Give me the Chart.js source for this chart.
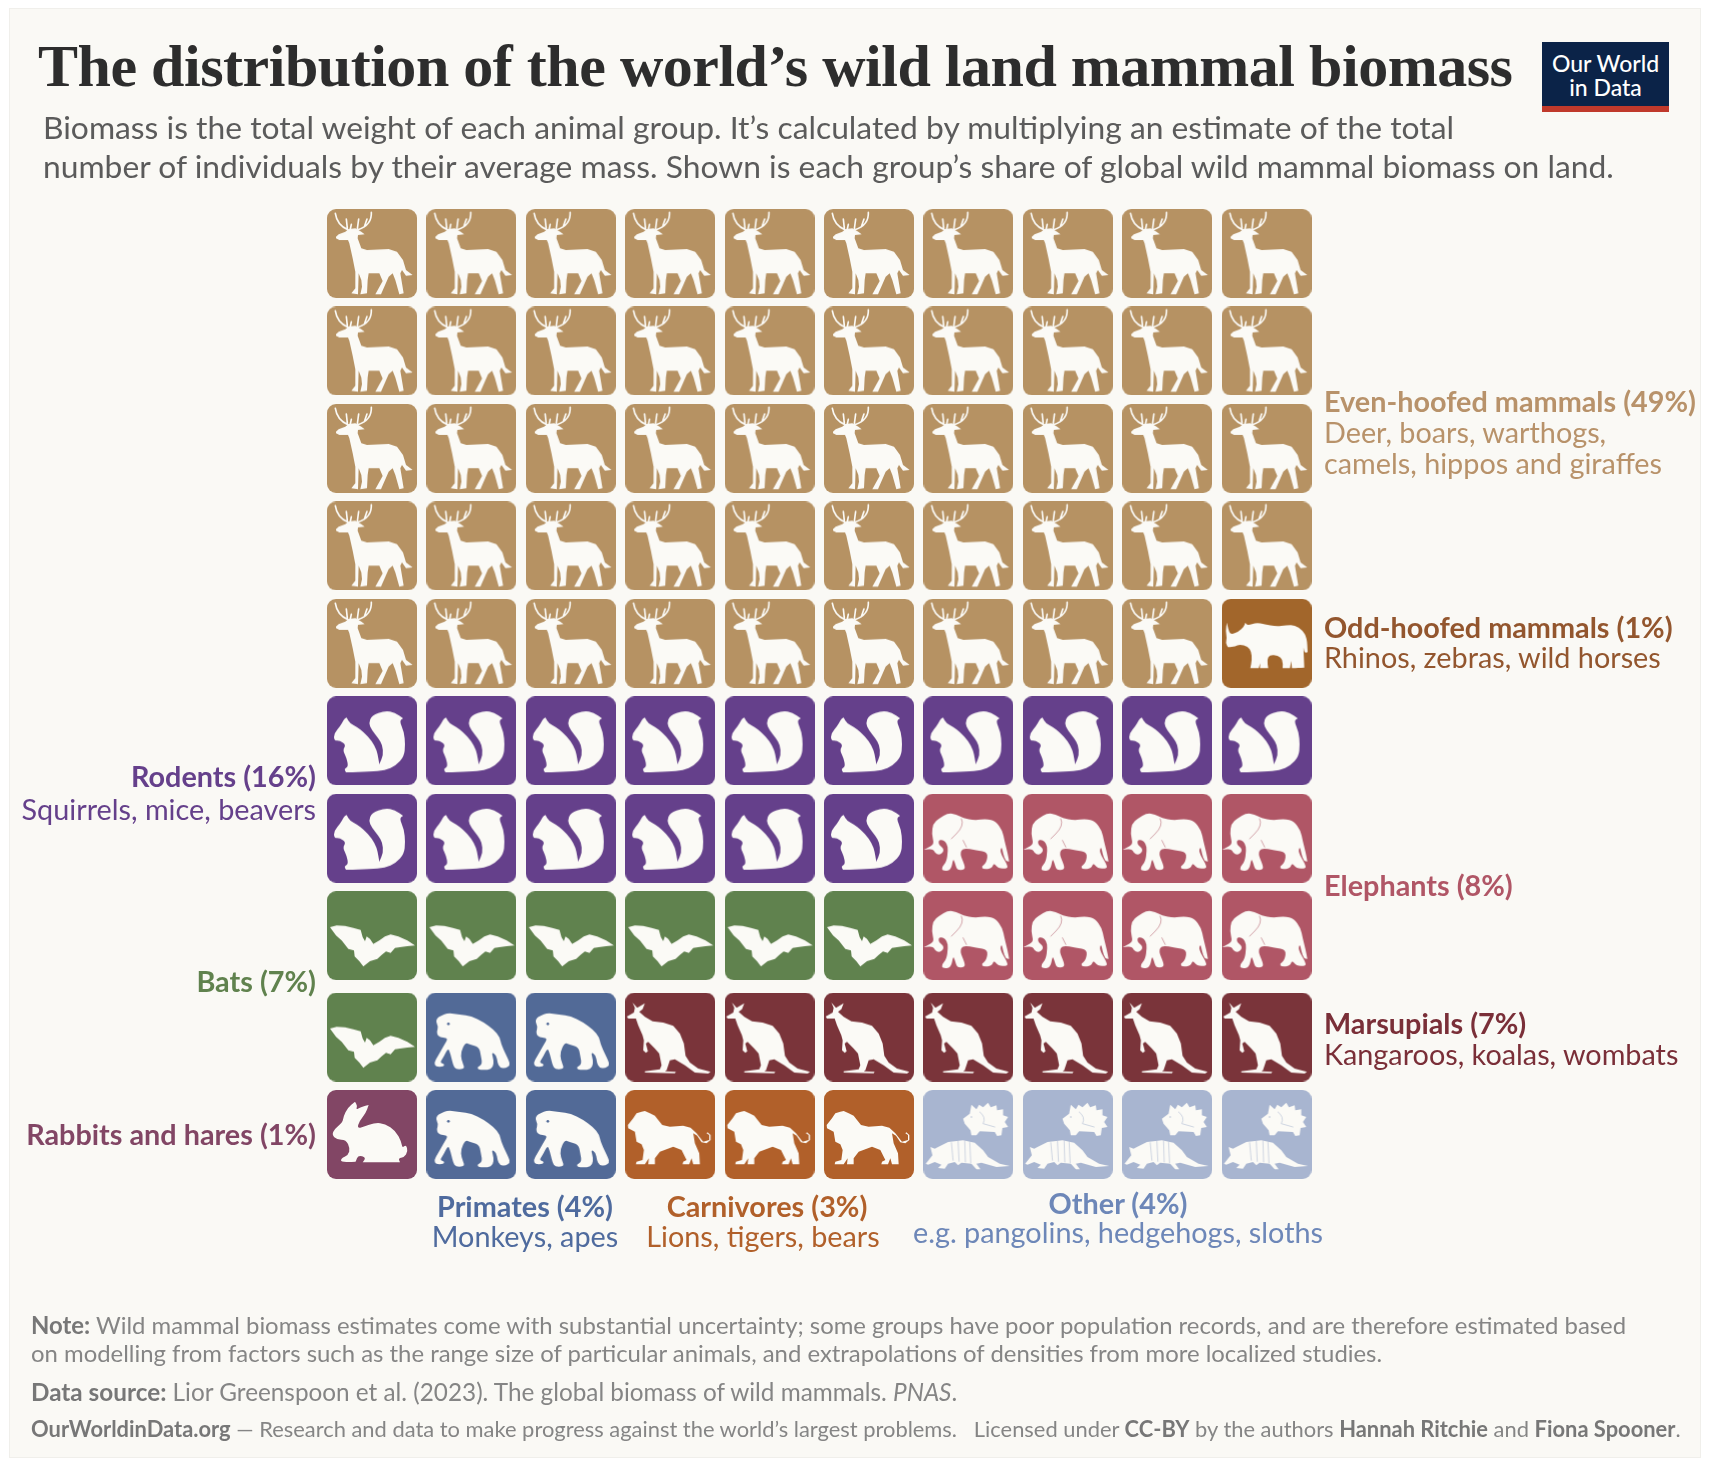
<!DOCTYPE html>
<html lang="en">

<head>
    <meta charset="UTF-8">
    <title>The distribution of the world's wild land mammal biomass</title>
    <script src="https://cdn.jsdelivr.net/npm/chart.js"></script>
    <style>
        html, body { margin: 0; padding: 0; background: #fff; }
        body { position: relative; width: 1710px; height: 1468px; overflow: hidden; font-family: Lato, sans-serif; }
        .panel { position: absolute; left: 9px; top: 8px; width: 1692px; height: 1450px; background: #faf9f5; border: 1px solid #f0efeb; box-sizing: border-box; }
        canvas { position: absolute; left: 0; top: 0; }
        .txt { position: absolute; white-space: nowrap; }
        h1 { position: absolute; left: 38px; top: 28px; margin: 0; font: bold 60px/76px "Liberation Serif", serif; letter-spacing: -0.48px; color: #2d2d2d; white-space: nowrap; }
        .sub { left: 43px; top: 108px; font-size: 31.8px; line-height: 38.5px; color: #5b5b5b; }
        .lab { font-size: 28.8px; line-height: 31px; }
        .lab b { font-weight: 700; }
        #lab8 b { position: relative; left: 4px; }
        .logo { position: absolute; left: 1542px; top: 42px; width: 127px; height: 70px; background: #0b2348; border-bottom: 6px solid #c0392b; box-sizing: border-box; color: #fff; font-size: 23px; line-height: 24px; font-weight: 500; text-align: center; padding-top: 9px; }
        .foot { left: 31px; line-height: 28px; color: #858585; }
        .foot b { color: #777; }
    </style>
</head>

<body>
    <div class="panel"></div>
    <canvas id="chartWaffle" width="1710" height="1468"></canvas>

    <h1>The distribution of the world’s wild land mammal biomass</h1>
    <div class="txt sub">Biomass is the total weight of each animal group. It’s calculated by multiplying an estimate of the total<br>number of individuals by their average mass. Shown is each group’s share of global wild mammal biomass on land.</div>
    <div class="logo">Our World<br>in Data</div>

    <!-- group labels, text comes from the arrays below -->
    <div class="txt lab" id="lab0" style="left:1324px; top:386px"></div>
    <div class="txt lab" id="lab1" style="left:1324px; top:612px; line-height:30px"></div>
    <div class="txt lab" id="lab2" style="right:1394px; top:760px; line-height:33px; text-align:right"></div>
    <div class="txt lab" id="lab3" style="left:1324px; top:870px"></div>
    <div class="txt lab" id="lab4" style="right:1394px; top:966px; text-align:right"></div>
    <div class="txt lab" id="lab5" style="left:1324px; top:1008px"></div>
    <div class="txt lab" id="lab6" style="right:1394px; top:1119px; text-align:right"></div>
    <div class="txt lab" id="lab7" style="left:425px; width:200px; top:1191px; line-height:30px; text-align:center"></div>
    <div class="txt lab" id="lab8" style="left:613px; width:300px; top:1191px; line-height:30px; text-align:center"></div>
    <div class="txt lab" id="lab9" style="left:868px; width:500px; top:1189px; line-height:29px; text-align:center"></div>

    <div class="txt foot" style="top:1311px; font-size:23.9px">
        <b>Note:</b> Wild mammal biomass estimates come with substantial uncertainty; some groups have poor population records, and are therefore estimated based<br>on modelling from factors such as the range size of particular animals, and extrapolations of densities from more localized studies.
    </div>
    <div class="txt foot" style="top:1378px; font-size:24.3px"><b>Data source:</b> Lior Greenspoon et al. (2023). The global biomass of wild mammals. <i>PNAS</i>.</div>
    <div class="txt foot" style="top:1415px; font-size:21.9px"><b>OurWorldinData.org</b> — Research and data to make progress against the world’s largest problems. &nbsp; Licensed under <b>CC-BY</b> by the authors <b>Hannah Ritchie</b> and <b>Fiona Spooner</b>.</div>

    <script>
        // dados
        var groupNames = ["Even-hoofed mammals", "Odd-hoofed mammals", "Rodents", "Elephants", "Bats", "Marsupials", "Rabbits and hares", "Primates", "Carnivores", "Other"];
        var groupShares = [49, 1, 16, 8, 7, 7, 1, 4, 3, 4];
        var groupNotes = [
            "Deer, boars, warthogs,<br>camels, hippos and giraffes",
            "Rhinos, zebras, wild horses",
            "Squirrels, mice, beavers",
            "",
            "",
            "Kangaroos, koalas, wombats",
            "",
            "Monkeys, apes",
            "Lions, tigers, bears",
            "e.g. pangolins, hedgehogs, sloths"
        ];
        // which group each tile belongs to, top row first
        var tileRows = [
            [0, 0, 0, 0, 0, 0, 0, 0, 0, 0],
            [0, 0, 0, 0, 0, 0, 0, 0, 0, 0],
            [0, 0, 0, 0, 0, 0, 0, 0, 0, 0],
            [0, 0, 0, 0, 0, 0, 0, 0, 0, 0],
            [0, 0, 0, 0, 0, 0, 0, 0, 0, 1],
            [2, 2, 2, 2, 2, 2, 2, 2, 2, 2],
            [2, 2, 2, 2, 2, 2, 3, 3, 3, 3],
            [4, 4, 4, 4, 4, 4, 3, 3, 3, 3],
            [4, 7, 7, 5, 5, 5, 5, 5, 5, 5],
            [6, 7, 7, 8, 8, 8, 9, 9, 9, 9]
        ];

        var tileColors = ["#b69263", "#a2662b", "#65408b", "#b05666", "#60824e", "#7a343a", "#824665", "#526a97", "#b1602a", "#a8b5d0"];
        var labelColors = ["#b8926a", "#93562e", "#65408b", "#b05666", "#60824e", "#7a2f38", "#824665", "#4f6b9e", "#b1602a", "#6d87b8"];
        var iconColor = "#fbfaf6";

        // silhouettes traced from 3x crops; ox/oy is the tile corner in that crop
        // round: corners are smoothed, a point written twice stays sharp
        var icons = [
            { // deer
                ox: 15, oy: 12,
                fill: "42 95 50 88 70 80 80 72 100 70 118 80 128 88 108 90 107 100 118 130 135 135 200 132 225 140 243 165 252 195 272 210 252 212 240 195 235 205 245 265 232 268 220 225 212 205 200 215 177 268 160 268 182 228 172 205 140 205 137 225 135 265 115 268 120 245 118 225 110 205 108 268 88 265 100 250 100 200 92 160 82 115 78 105 52 105 42 100",
                antler: "M40 25 Q45 60 78 74 M148 22 Q150 60 108 74 M73 42 L76 70 M88 58 L85 72 M110 42 L106 72 M135 42 L128 62"
            },
            { // rhino
                ox: 21, oy: 12, round: true,
                fill: "37 83 37 83 41 103 48 120 72 110 88 95 92 83 92 83 99 92 125 83 150 88 185 95 215 91 240 90 264 106 277 130 279 172 279 172 269 174 266 150 269 218 269 218 232 220 232 220 230 198 230 198 226 220 226 220 204 220 204 220 205 195 190 182 165 180 157 195 161 220 161 220 136 220 136 220 137 205 137 205 132 220 132 220 107 220 107 220 112 195 110 170 100 155 75 148 62 155 40 157 40 157 33 145 37 130 33 108"
            },
            { // squirrel
                ox: 21, oy: 304, round: true,
                fill: "80 368 80 368 90 385 110 395 132 412 155 437 170 465 175 490 178 508 178 508 190 480 187 450 175 430 155 405 146 385 155 362 195 347 225 353 250 370 250 370 238 378 252 410 256 450 252 485 228 512 195 526 150 530 78 532 78 532 72 522 85 515 80 490 68 465 78 450 60 437 42 437 42 415 62 392 68 380 74 370"
            },
            { // elephant
                ox: 11, oy: 10, round: true,
                fill: "36 130 40 100 58 84 85 68 110 72 130 83 165 90 200 85 228 93 248 120 254 150 264 190 268 213 268 213 258 212 250 190 246 168 240 185 264 225 262 235 235 234 222 217 217 234 190 237 185 228 200 218 205 185 170 180 130 172 120 190 135 225 135 238 112 240 105 215 100 205 94 240 68 242 66 230 80 215 85 180 82 160 70 148 56 150 58 165 70 172 72 184 58 194 45 187 40 175 13 178 13 178 38 165 42 155",
                lines: "M125 85 Q135 105 110 130 L95 145 M130 150 L140 170"
            },
            { // bat
                ox: 21, oy: 22,
                fill: "30 130 50 125 75 126 100 132 122 138 128 160 135 172 140 158 150 165 160 180 178 170 195 158 212 152 235 158 262 170 285 185 262 187 240 190 225 192 212 207 198 203 185 213 172 225 150 232 130 248 118 232 104 218 102 200 85 195 65 170 48 155"
            },
            { // kangaroo
                ox: 916, oy: 22,
                fill: "938 52 952 68 975 54 968 72 958 80 975 95 998 108 1030 112 1060 122 1080 145 1092 175 1097 212 1110 232 1135 250 1172 260 1165 265 1125 262 1095 240 1065 222 1050 225 1040 255 1035 258 1068 260 1065 264 975 262 975 258 1020 252 1025 240 1018 205 1005 190 985 170 978 175 984 198 978 203 970 195 972 165 968 150 955 120 948 100 925 100 921 94 942 82 945 68"
            },
            { // rabbit
                ox: 21, oy: 315, round: true,
                fill: "36 450 43 432 68 412 70 395 83 368 105 350 105 350 112 362 108 375 122 366 146 360 146 360 137 385 117 410 112 430 130 426 165 413 195 416 227 438 244 470 247 490 258 478 264 500 252 517 235 520 240 532 240 532 128 532 128 532 138 518 115 510 107 530 107 530 63 532 63 520 85 510 90 490 78 464 50 464"
            },
            { // chimp
                ox: 320, oy: 22, round: true,
                fill: "363 92 385 83 420 88 455 93 490 110 522 133 540 155 545 180 567 225 571 240 557 250 540 247 533 232 530 210 515 200 522 225 520 247 505 254 476 254 472 245 488 238 483 210 478 185 450 178 437 172 423 200 425 225 434 245 430 252 408 252 400 240 392 205 385 188 372 215 360 232 374 236 372 244 348 245 343 232 353 215 373 180 385 160 370 157 354 154 351 138 356 125 348 110 353 98",
                dots: [[386, 116, 4]]
            },
            { // lion
                ox: 916, oy: 315,
                fill: "924 420 940 400 950 385 965 380 975 378 990 385 1005 392 1015 405 1027 420 1050 425 1090 422 1112 428 1130 445 1150 470 1168 465 1168 450 1160 445 1163 442 1172 450 1172 465 1160 475 1145 472 1132 452 1120 445 1125 475 1138 505 1140 538 1120 538 1115 520 1108 538 1088 538 1090 530 1100 525 1085 495 1060 485 1020 500 1005 520 1005 538 985 538 987 520 975 538 948 538 950 530 968 525 972 495 965 478 950 470 945 440 925 430"
            },
            { // hedgehog and armadillo
                ox: 11, oy: 14,
                fill: "130 100 150 85 155 58 170 72 178 58 190 66 205 52 213 66 230 60 232 75 250 72 250 90 265 95 255 110 265 125 248 128 245 150 232 152 225 140 180 138 170 150 155 150 152 135 135 115",
                fill2: "18 235 38 210 32 185 45 190 55 185 85 170 130 165 165 172 190 195 205 215 240 235 270 242 230 245 185 232 170 235 182 252 170 252 155 235 125 232 115 240 105 230 85 235 75 250 55 248 65 238 45 230 25 238",
                lines: "M180 80 Q200 95 190 115 L225 125 M95 172 L100 225 M115 167 L118 228 M135 167 L137 230 M150 170 L153 232",
                dots: [[155, 95, 2]]
            }
        ];

        // outline from a list of numbers, straight or smoothed through the midpoints
        function outline(g, str, round) {
            var n = str.trim().split(/\s+/).map(Number);
            var pts = [];
            for (var k = 0; k < n.length; k += 2) pts.push([n[k], n[k + 1]]);
            g.beginPath();
            if (!round) {
                pts.forEach(function (p, k) { k ? g.lineTo(p[0], p[1]) : g.moveTo(p[0], p[1]); });
            } else {
                var last = pts[pts.length - 1];
                g.moveTo((last[0] + pts[0][0]) / 2, (last[1] + pts[0][1]) / 2);
                pts.forEach(function (p, k) {
                    var q = pts[(k + 1) % pts.length];
                    g.quadraticCurveTo(p[0], p[1], (p[0] + q[0]) / 2, (p[1] + q[1]) / 2);
                });
            }
            g.closePath();
            g.fill();
        }

        // rounded tile with the animal on it, used as the point image
        function makeTile(i) {
            var c = document.createElement("canvas");
            c.width = 90;
            c.height = 89;
            var g = c.getContext("2d");
            g.fillStyle = tileColors[i];
            g.beginPath();
            g.roundRect(0, 0, 90, 89, 9);
            g.fill();
            var icon = icons[i];
            g.scale(1 / 3, 1 / 3);
            g.translate(-icon.ox, -icon.oy);
            g.fillStyle = iconColor;
            outline(g, icon.fill, icon.round);
            if (icon.fill2) outline(g, icon.fill2, icon.round);
            g.lineCap = "round";
            if (icon.antler) {
                g.strokeStyle = iconColor;
                g.lineWidth = 5;
                g.stroke(new Path2D(icon.antler));
            }
            if (icon.lines) {
                g.strokeStyle = tileColors[i];
                g.lineWidth = 1.6;
                g.stroke(new Path2D(icon.lines));
            }
            (icon.dots || []).forEach(function (d) {
                g.fillStyle = tileColors[i];
                g.beginPath();
                g.arc(d[0], d[1], d[2], 0, Math.PI * 2);
                g.fill();
            });
            return c;
        }

        // the bottom two rows sit a little further from the rest
        function rowValue(rowFromTop) {
            var r = tileRows.length - 1 - rowFromTop;
            return r >= 2 ? r + 0.04 : r;
        }

        var datasets = groupNames.map(function (name, i) {
            var pts = [];
            tileRows.forEach(function (row, ry) {
                row.forEach(function (g, col) {
                    if (g === i) pts.push({ x: col, y: rowValue(ry) });
                });
            });
            return {
                label: name,
                data: pts,
                pointStyle: makeTile(i),
                pointRadius: 40,
                clip: false
            };
        });

        var ctxWaffle = document.getElementById("chartWaffle").getContext("2d");
        var chartWaffle = new Chart(ctxWaffle, {
            type: "scatter",
            data: { datasets: datasets },
            options: {
                responsive: false,
                animation: false,
                layout: { padding: { left: 322.3, right: 393.7, top: 204.8, bottom: 284.8 } },
                plugins: { legend: { display: false }, tooltip: { enabled: false } },
                scales: {
                    x: { display: false, min: -0.5, max: 9.5 },
                    y: { display: false, min: -0.5, max: 9.54 }
                }
            }
        });

        // labels
        groupNames.forEach(function (name, i) {
            var el = document.getElementById("lab" + i);
            el.style.color = labelColors[i];
            el.innerHTML = "<b>" + name + " (" + groupShares[i] + "%)</b>" + (groupNotes[i] ? "<br>" + groupNotes[i] : "");
        });
    </script>
</body>

</html>
